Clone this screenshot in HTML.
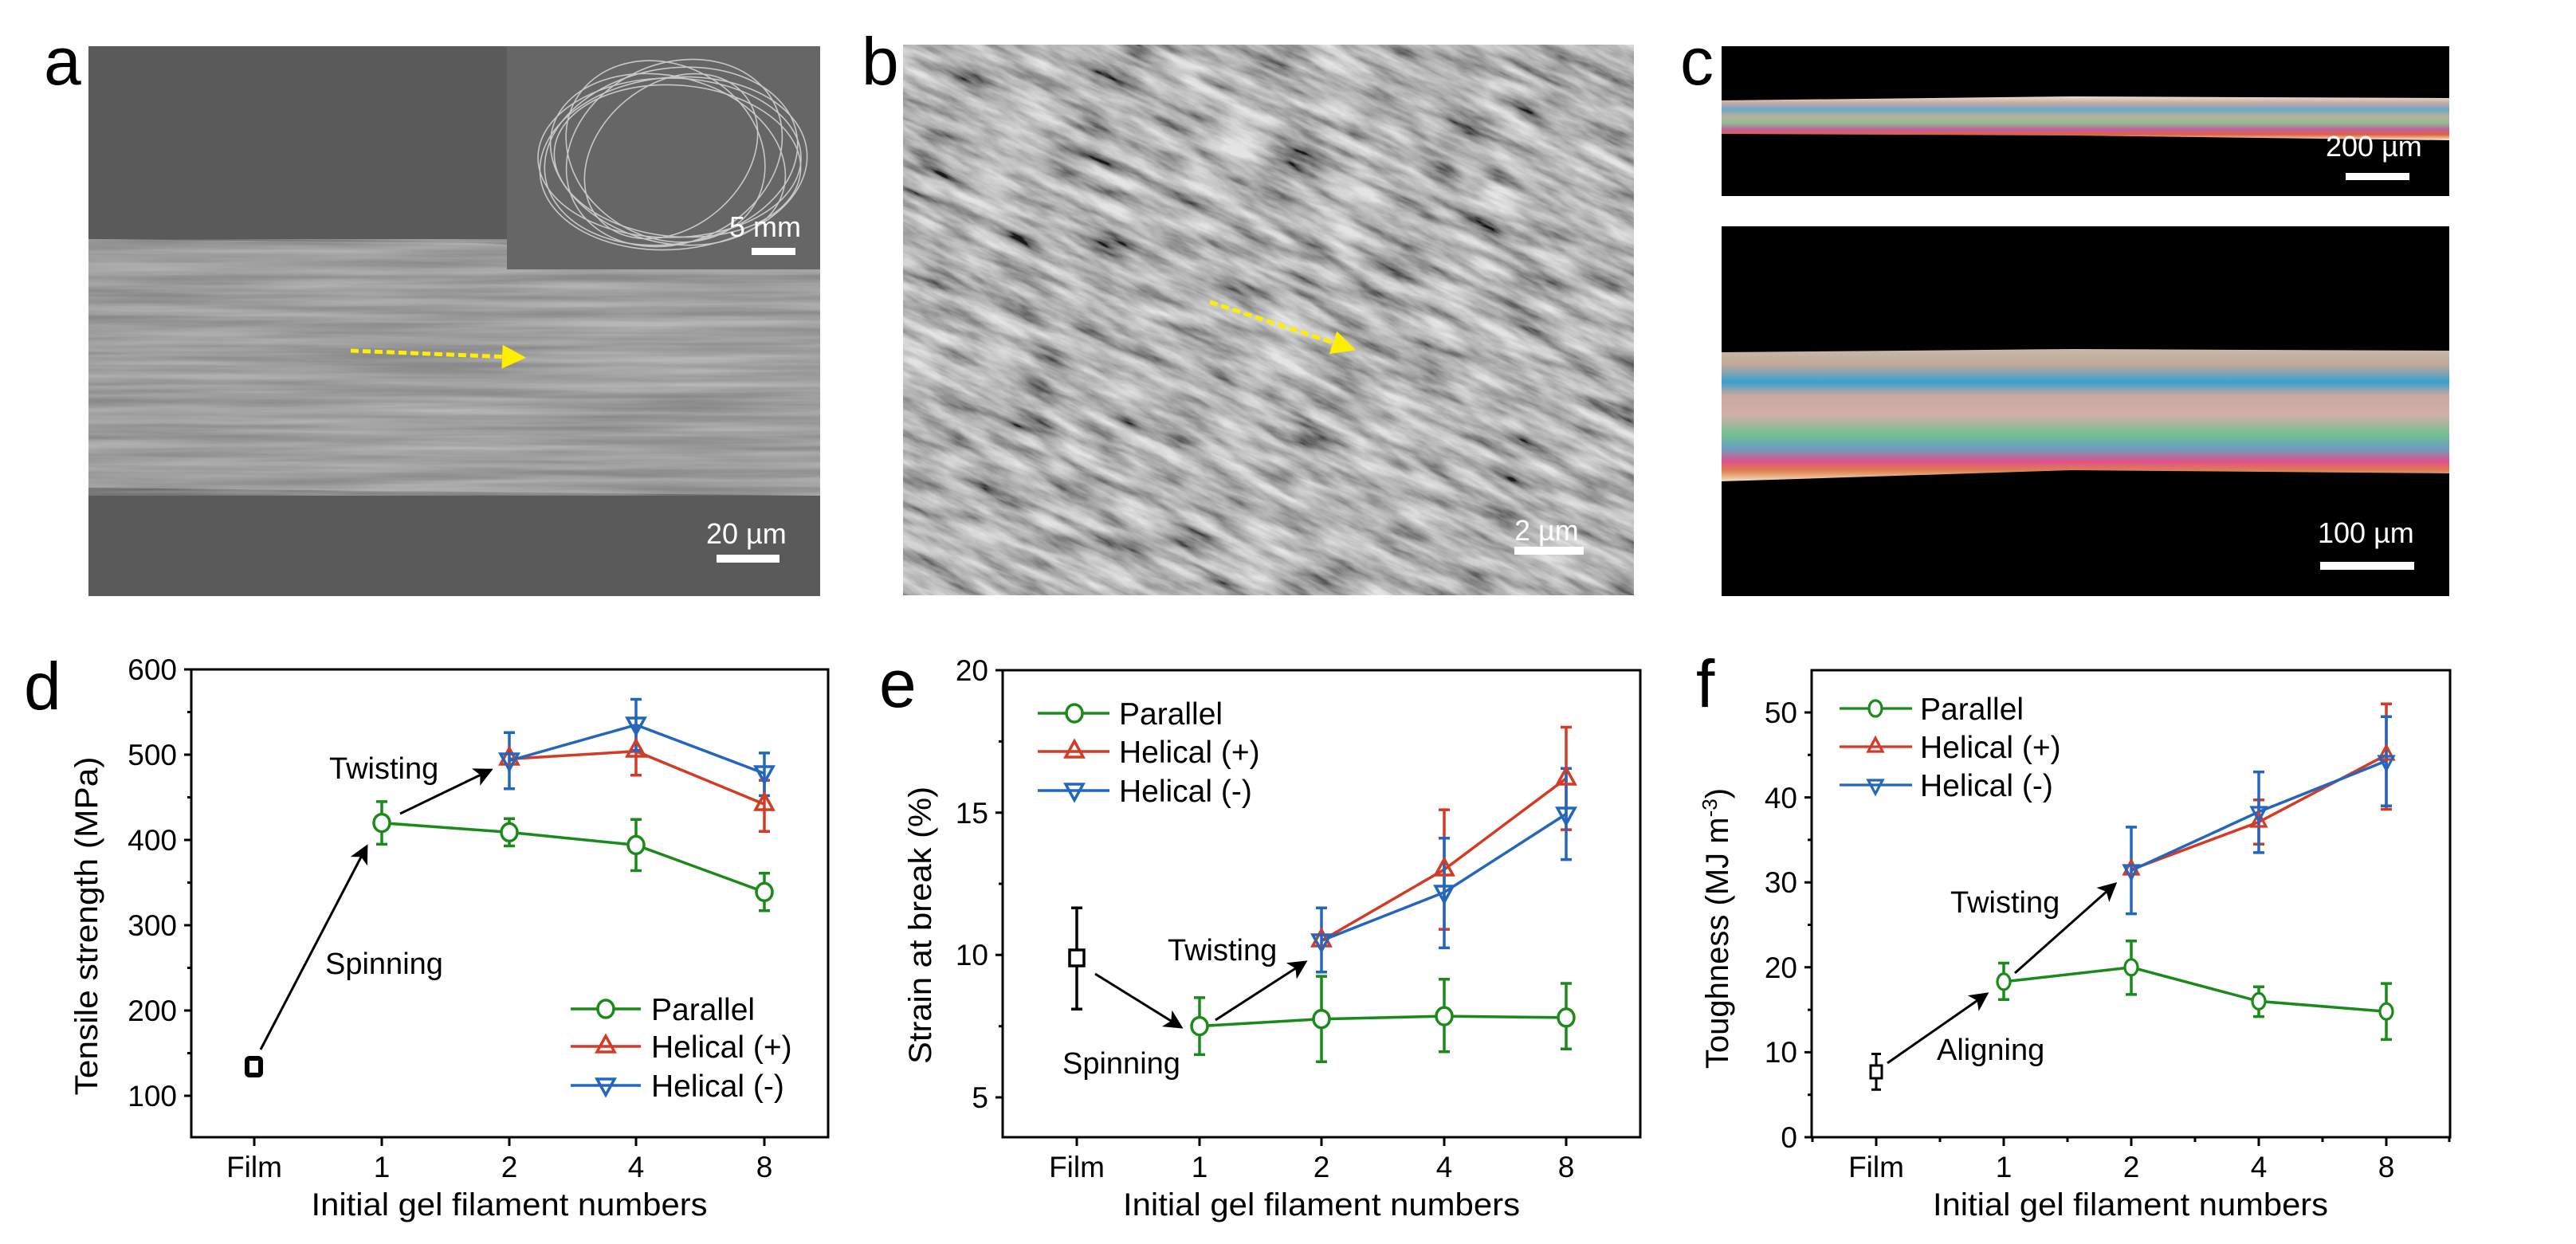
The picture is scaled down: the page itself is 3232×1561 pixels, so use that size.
<!DOCTYPE html>
<html><head><meta charset="utf-8"><style>
html,body{margin:0;padding:0;background:#fff}
svg{display:block}
text{font-family:"Liberation Sans",Arial,sans-serif}
</style></head><body>
<svg width="3232" height="1561" viewBox="0 0 3232 1561" xmlns="http://www.w3.org/2000/svg">
<defs>
<filter id="streak" x="0" y="0" width="100%" height="100%">
<feTurbulence type="fractalNoise" baseFrequency="0.003 0.09" numOctaves="3" seed="3"/>
<feColorMatrix type="matrix" values="0 0 0 0 0.6  0 0 0 0 0.6  0 0 0 0 0.6  0 0 0 -1.5 1.2"/>
</filter>
<filter id="sem" x="0" y="0" width="100%" height="100%">
<feTurbulence type="fractalNoise" baseFrequency="0.012 0.06" numOctaves="4" seed="7"/>
<feColorMatrix type="saturate" values="0"/>
<feComponentTransfer><feFuncR type="linear" slope="2.0" intercept="-0.45"/><feFuncG type="linear" slope="2.0" intercept="-0.45"/><feFuncB type="linear" slope="2.0" intercept="-0.45"/><feFuncA type="linear" slope="0" intercept="1"/></feComponentTransfer>
</filter>
<clipPath id="bclip"><rect x="1133" y="56" width="917" height="691"/></clipPath>
<linearGradient id="pol1" x1="0" y1="0" x2="0" y2="1">
<stop offset="0" stop-color="#e8e0d0"/><stop offset="0.15" stop-color="#c9a8a0"/><stop offset="0.3" stop-color="#6aa8c8"/><stop offset="0.45" stop-color="#b8b0a0"/><stop offset="0.6" stop-color="#8fbf90"/><stop offset="0.75" stop-color="#c060a0"/><stop offset="0.87" stop-color="#e06040"/><stop offset="1" stop-color="#f8ecd0"/>
</linearGradient>
<linearGradient id="pol2" x1="0" y1="0" x2="0" y2="1">
<stop offset="0" stop-color="#c8b8a8"/><stop offset="0.12" stop-color="#c0a898"/><stop offset="0.25" stop-color="#3aa0d0"/><stop offset="0.35" stop-color="#c8a8a0"/><stop offset="0.5" stop-color="#d0b0a8"/><stop offset="0.65" stop-color="#70c090"/><stop offset="0.75" stop-color="#6aa0c0"/><stop offset="0.85" stop-color="#e0508a"/><stop offset="0.92" stop-color="#e08050"/><stop offset="1" stop-color="#f0e0c0"/>
</linearGradient>
<marker id="ah" markerWidth="8" markerHeight="8" refX="7" refY="4" orient="auto" markerUnits="strokeWidth"><path d="M0,0 L8,4 L0,8 L2,4 z" fill="#000"/></marker>
<marker id="ay" markerWidth="6" markerHeight="6" refX="2" refY="3" orient="auto" markerUnits="strokeWidth"><path d="M0,0 L6,3 L0,6 z" fill="#ffee00"/></marker>
</defs>

<!-- panel a -->
<rect x="111" y="58" width="918" height="690" fill="#5a5a5a"/>
<polygon points="111,300 600,305 1029,330 1029,622 111,612" fill="#8a8a8a"/>
<polygon points="111,300 600,305 1029,330 1029,622 111,612" fill="#8a8a8a" filter="url(#streak)" opacity="0.7"/>
<rect x="636" y="58" width="393" height="280" fill="#666"/>
<g fill="none" stroke="#d8d8d8" stroke-width="1.6" opacity="0.85">
<ellipse cx="842" cy="196" rx="160" ry="110" transform="rotate(-10 842 196)"/>
<ellipse cx="838" cy="200" rx="150" ry="104" transform="rotate(15 838 200)"/>
<ellipse cx="846" cy="192" rx="140" ry="112" transform="rotate(-25 846 192)"/>
<ellipse cx="840" cy="198" rx="165" ry="100"/>
<ellipse cx="835" cy="190" rx="130" ry="108" transform="rotate(30 835 190)"/>
<ellipse cx="850" cy="202" rx="155" ry="95" transform="rotate(5 850 202)"/>
<ellipse cx="842" cy="196" rx="120" ry="90" transform="rotate(-40 842 196)"/>
<ellipse cx="845" cy="205" rx="168" ry="108" transform="rotate(-5 845 205)"/>
</g>
<line x1="440" y1="440" x2="640" y2="448" stroke="#ffee00" stroke-width="5" stroke-dasharray="10,5" marker-end="url(#ay)"/>
<text x="915" y="297" font-size="36" fill="#fff">5 mm</text>
<rect x="943" y="311" width="55" height="9" fill="#fff"/>
<text x="886" y="682" font-size="36" fill="#fff">20 µm</text>
<rect x="899" y="696" width="79" height="10" fill="#fff"/>
<text x="55" y="106" font-size="84">a</text>

<!-- panel b -->
<rect x="1133" y="56" width="917" height="691" fill="#7a7a7a"/>
<g clip-path="url(#bclip)">
<rect x="900" y="-200" width="1400" height="1200" filter="url(#sem)" opacity="0.8" transform="rotate(25 1591 400)"/>
</g>
<line x1="1518" y1="379" x2="1682" y2="433" stroke="#ffee00" stroke-width="5" stroke-dasharray="10,5" marker-end="url(#ay)"/>
<text x="1900" y="678" font-size="36" fill="#fff">2 µm</text>
<rect x="1900" y="686" width="87" height="10" fill="#fff"/>
<text x="1081" y="106" font-size="84">b</text>

<!-- panel c -->
<rect x="2160" y="58" width="913" height="188" fill="#000"/>
<polygon points="2160,126 2600,121 3073,123 3073,176 2600,170 2160,168" fill="url(#pol1)"/>
<text x="2918" y="196" font-size="36" fill="#fff">200 µm</text>
<rect x="2943" y="217" width="80" height="9" fill="#fff"/>
<rect x="2160" y="284" width="913" height="464" fill="#000"/>
<polygon points="2160,442 2600,438 3073,440 3073,594 2600,590 2160,604" fill="url(#pol2)"/>
<text x="2908" y="681" font-size="36" fill="#fff">100 µm</text>
<rect x="2911" y="705" width="118" height="10" fill="#fff"/>
<text x="2108" y="106" font-size="84">c</text>

<!-- ============ panel d ============ -->
<g stroke="#000" stroke-width="3" fill="none">
<rect x="240" y="840" width="799" height="587"/>
<path d="M240,1375h-9M240,1268h-9M240,1161h-9M240,1054h-9M240,947h-9M240,840h-9M240,1321.5h-5M240,1214.5h-5M240,1107.5h-5M240,1000.5h-5M240,893.5h-5"/>
<path d="M319,1427v11M479,1427v11M639,1427v11M798,1427v11M959,1427v11"/>
</g>
<g font-size="37" text-anchor="end">
<text x="222" y="1388">100</text><text x="222" y="1281">200</text><text x="222" y="1174">300</text><text x="222" y="1067">400</text><text x="222" y="960">500</text><text x="222" y="853">600</text>
</g>
<g font-size="37" text-anchor="middle">
<text x="319" y="1477">Film</text><text x="479" y="1477">1</text><text x="639" y="1477">2</text><text x="798" y="1477">4</text><text x="959" y="1477">8</text>
</g>
<text x="639" y="1525" font-size="40" text-anchor="middle" textLength="497" lengthAdjust="spacingAndGlyphs">Initial gel filament numbers</text>
<text transform="translate(122,1162) rotate(-90)" font-size="40" text-anchor="middle" textLength="425" lengthAdjust="spacingAndGlyphs">Tensile strength (MPa)</text>
<text x="30" y="890" font-size="84">d</text>
<g stroke-width="3.5" fill="none">
<path d="M479,1059.4V1005.9M472,1059.4h14M472,1005.9h14M639,1061.5V1027.3M632,1061.5h14M632,1027.3h14M798,1092.5V1028.3M791,1092.5h14M791,1028.3h14M959,1142.8V1095.7M952,1142.8h14M952,1095.7h14" stroke="#1a8a1a"/>
<polyline points="479,1032.6 639,1044.4 798,1060.4 959,1119.3" stroke="#1a8a1a"/>
<path d="M798,972.7V911.7M791,972.7h14M791,911.7h14M959,1043.3V979.1M952,1043.3h14M952,979.1h14" stroke="#d33b26"/>
<polyline points="639,952.4 798,942.7 959,1009.1" stroke="#d33b26"/>
<path d="M639,989.8V919.2M632,989.8h14M632,919.2h14M798,941.7V877.5M791,941.7h14M791,877.5h14M959,998.4V944.9M952,998.4h14M952,944.9h14" stroke="#2266c0"/>
<polyline points="639,954.5 798,909.6 959,970.5" stroke="#2266c0"/>
</g>
<g fill="#fff" stroke-width="3.5">
<g stroke="#1a8a1a"><ellipse cx="479" cy="1032.6" rx="10" ry="11"/><ellipse cx="639" cy="1044.4" rx="10" ry="11"/><ellipse cx="798" cy="1060.4" rx="10" ry="11"/><ellipse cx="959" cy="1119.3" rx="10" ry="11"/></g>
<g stroke="#d33b26" fill="none"><path d="M639,939l-11,20h22z"/><path d="M798,929l-11,20h22z"/><path d="M959,996l-11,20h22z"/></g>
<g stroke="#2266c0" fill="none"><path d="M639,966l-11,-20h22z"/><path d="M798,921l-11,-20h22z"/><path d="M959,982l-11,-20h22z"/></g>
</g>
<rect x="310" y="1328" width="17" height="21" rx="3" fill="#fff" stroke="#000" stroke-width="6"/>
<line x1="327" y1="1317" x2="460" y2="1062" stroke="#000" stroke-width="3" marker-end="url(#ah)"/>
<line x1="502" y1="1021" x2="616" y2="966" stroke="#000" stroke-width="3" marker-end="url(#ah)"/>
<text x="413" y="977" font-size="38">Twisting</text>
<text x="408" y="1222" font-size="38">Spinning</text>
<g stroke-width="3.5">
<line x1="716" y1="1266" x2="804" y2="1266" stroke="#1a8a1a"/><ellipse cx="760" cy="1266" rx="10" ry="11" fill="#fff" stroke="#1a8a1a"/>
<line x1="716" y1="1313" x2="804" y2="1313" stroke="#d33b26"/><path d="M760,1300l-11,20h22z" fill="none" stroke="#d33b26"/>
<line x1="716" y1="1362" x2="804" y2="1362" stroke="#2266c0"/><path d="M760,1374l-11,-20h22z" fill="none" stroke="#2266c0"/>
</g>
<g font-size="39"><text x="817" y="1280">Parallel</text><text x="817" y="1327">Helical (+)</text><text x="817" y="1376">Helical (-)</text></g>

<!-- ============ panel e ============ -->
<g stroke="#000" stroke-width="3" fill="none">
<rect x="1258" y="841" width="800" height="586"/>
<path d="M1258,1377h-9M1258,1198.3h-9M1258,1019.7h-9M1258,841h-9M1258,1287.7h-5M1258,1109h-5M1258,930.4h-5"/>
<path d="M1351,1427v11M1505,1427v11M1658,1427v11M1812,1427v11M1965,1427v11"/>
</g>
<g font-size="37" text-anchor="end"><text x="1240" y="1390">5</text><text x="1240" y="1211">10</text><text x="1240" y="1033">15</text><text x="1240" y="854">20</text></g>
<g font-size="37" text-anchor="middle"><text x="1351" y="1477">Film</text><text x="1505" y="1477">1</text><text x="1658" y="1477">2</text><text x="1812" y="1477">4</text><text x="1965" y="1477">8</text></g>
<text x="1658" y="1525" font-size="40" text-anchor="middle" textLength="498" lengthAdjust="spacingAndGlyphs">Initial gel filament numbers</text>
<text transform="translate(1168,1161) rotate(-90)" font-size="40" text-anchor="middle" textLength="348" lengthAdjust="spacingAndGlyphs">Strain at break (%)</text>
<text x="1103" y="887" font-size="84">e</text>
<g stroke-width="3.5" fill="none">
<path d="M1505,1323.4V1251.9M1498,1323.4h14M1498,1251.9h14M1658,1332.3V1225.1M1651,1332.3h14M1651,1225.1h14M1812,1319.8V1228.7M1805,1319.8h14M1805,1228.7h14M1965,1316.2V1234M1958,1316.2h14M1958,1234h14" stroke="#1a8a1a"/>
<polyline points="1505,1287.6 1658,1278.7 1812,1275.1 1965,1276.9" stroke="#1a8a1a"/>
<path d="M1812,1166.1V1016.1M1805,1166.1h14M1805,1016.1h14M1965,1041.1V912.5M1958,1041.1h14M1958,912.5h14" stroke="#d33b26"/>
<polyline points="1658,1180.4 1812,1091.1 1965,976.8" stroke="#d33b26"/>
<path d="M1658,1219.7V1139.3M1651,1219.7h14M1651,1139.3h14M1812,1189.4V1051.8M1805,1189.4h14M1805,1051.8h14M1965,1078.6V964.3M1958,1078.6h14M1958,964.3h14" stroke="#2266c0"/>
<polyline points="1658,1180.4 1812,1119.7 1965,1021.4" stroke="#2266c0"/>
</g>
<g fill="#fff" stroke-width="3.5">
<g stroke="#1a8a1a"><ellipse cx="1505" cy="1287.6" rx="10" ry="11"/><ellipse cx="1658" cy="1278.7" rx="10" ry="11"/><ellipse cx="1812" cy="1275.1" rx="10" ry="11"/><ellipse cx="1965" cy="1276.9" rx="10" ry="11"/></g>
<g stroke="#d33b26" fill="none"><path d="M1658,1167l-11,20h22z"/><path d="M1812,1078l-11,20h22z"/><path d="M1965,964l-11,20h22z"/></g>
<g stroke="#2266c0" fill="none"><path d="M1658,1193l-11,-20h22z"/><path d="M1812,1132l-11,-20h22z"/><path d="M1965,1034l-11,-20h22z"/></g>
</g>
<g stroke="#000" stroke-width="3.5" fill="none"><path d="M1351,1266.2V1139.3M1344,1266.2h14M1344,1139.3h14"/><rect x="1342" y="1192" width="18" height="20" fill="#fff"/></g>
<line x1="1374" y1="1222" x2="1482" y2="1289" stroke="#000" stroke-width="3" marker-end="url(#ah)"/>
<line x1="1525" y1="1280" x2="1638" y2="1207" stroke="#000" stroke-width="3" marker-end="url(#ah)"/>
<text x="1465" y="1205" font-size="38">Twisting</text>
<text x="1333" y="1347" font-size="38">Spinning</text>
<g stroke-width="3.5">
<line x1="1302" y1="895" x2="1392" y2="895" stroke="#1a8a1a"/><ellipse cx="1348" cy="895" rx="10" ry="11" fill="#fff" stroke="#1a8a1a"/>
<line x1="1302" y1="943" x2="1392" y2="943" stroke="#d33b26"/><path d="M1348,930l-11,20h22z" fill="none" stroke="#d33b26"/>
<line x1="1302" y1="992" x2="1392" y2="992" stroke="#2266c0"/><path d="M1348,1004l-11,-20h22z" fill="none" stroke="#2266c0"/>
</g>
<g font-size="39"><text x="1404" y="909">Parallel</text><text x="1404" y="957">Helical (+)</text><text x="1404" y="1006">Helical (-)</text></g>

<!-- ============ panel f ============ -->
<g stroke="#000" stroke-width="3" fill="none">
<rect x="2273" y="841" width="801" height="586"/>
<path d="M2273,1427h-9M2273,1320.4h-9M2273,1213.8h-9M2273,1107.2h-9M2273,1000.6h-9M2273,894h-9M2273,1373.7h-5M2273,1267.1h-5M2273,1160.5h-5M2273,1053.9h-5M2273,947.3h-5"/>
<path d="M2354,1427v11M2514,1427v11M2674,1427v11M2834,1427v11M2994,1427v11M2274,1427v6M2434,1427v6M2594,1427v6M2754,1427v6M2914,1427v6M3073,1427v6"/>
</g>
<g font-size="37" text-anchor="end"><text x="2255" y="1440">0</text><text x="2255" y="1333">10</text><text x="2255" y="1227">20</text><text x="2255" y="1120">30</text><text x="2255" y="1014">40</text><text x="2255" y="907">50</text></g>
<g font-size="37" text-anchor="middle"><text x="2354" y="1477">Film</text><text x="2514" y="1477">1</text><text x="2674" y="1477">2</text><text x="2834" y="1477">4</text><text x="2994" y="1477">8</text></g>
<text x="2673" y="1525" font-size="40" text-anchor="middle" textLength="496" lengthAdjust="spacingAndGlyphs">Initial gel filament numbers</text>
<text transform="translate(2168,1165) rotate(-90)" font-size="40" text-anchor="middle">Toughness (MJ m<tspan font-size="26" dy="-14">-3</tspan><tspan dy="14">)</tspan></text>
<text x="2128" y="887" font-size="84">f</text>
<g stroke-width="3.5" fill="none">
<path d="M2514,1254.3V1208.5M2507,1254.3h14M2507,1208.5h14M2674,1247.9V1180.8M2667,1247.9h14M2667,1180.8h14M2834,1275.6V1238.3M2827,1275.6h14M2827,1238.3h14M2994,1304.4V1234.1M2987,1304.4h14M2987,1234.1h14" stroke="#1a8a1a"/>
<polyline points="2514,1231.9 2674,1213.8 2834,1256.4 2994,1269.2" stroke="#1a8a1a"/>
<path d="M2834,1059.2V1003.8M2827,1059.2h14M2827,1003.8h14M2994,1015.5V883.3M2987,1015.5h14M2987,883.3h14" stroke="#d33b26"/>
<polyline points="2674,1091.2 2834,1031.5 2994,947.3" stroke="#d33b26"/>
<path d="M2674,1146.6V1037.9M2667,1146.6h14M2667,1037.9h14M2834,1069.9V968.6M2827,1069.9h14M2827,968.6h14M2994,1011.3V899.3M2987,1011.3h14M2987,899.3h14" stroke="#2266c0"/>
<polyline points="2674,1092.3 2834,1018.7 2994,954.8" stroke="#2266c0"/>
</g>
<g fill="#fff" stroke-width="3.2">
<g stroke="#1a8a1a"><ellipse cx="2514" cy="1231.9" rx="8" ry="10"/><ellipse cx="2674" cy="1213.8" rx="8" ry="10"/><ellipse cx="2834" cy="1256.4" rx="8" ry="10"/><ellipse cx="2994" cy="1269.2" rx="8" ry="10"/></g>
<g stroke="#d33b26" fill="none"><path d="M2674,1080l-9,17h18z"/><path d="M2834,1020l-9,17h18z"/><path d="M2994,936l-9,17h18z"/></g>
<g stroke="#2266c0" fill="none"><path d="M2674,1103l-9,-17h18z"/><path d="M2834,1030l-9,-17h18z"/><path d="M2994,966l-9,-17h18z"/></g>
</g>
<g stroke="#000" stroke-width="3" fill="none"><path d="M2354,1367.3V1322.5M2348,1367.3h12M2348,1322.5h12"/><rect x="2347" y="1337" width="14" height="16" fill="#fff"/></g>
<line x1="2368" y1="1334" x2="2493" y2="1247" stroke="#000" stroke-width="3" marker-end="url(#ah)"/>
<line x1="2528" y1="1221" x2="2654" y2="1109" stroke="#000" stroke-width="3" marker-end="url(#ah)"/>
<text x="2447" y="1145" font-size="38">Twisting</text>
<text x="2430" y="1330" font-size="38">Aligning</text>
<g stroke-width="3.2">
<line x1="2308" y1="889" x2="2399" y2="889" stroke="#1a8a1a"/><ellipse cx="2353" cy="889" rx="8" ry="10" fill="#fff" stroke="#1a8a1a"/>
<line x1="2308" y1="937" x2="2399" y2="937" stroke="#d33b26"/><path d="M2353,926l-9,17h18z" fill="none" stroke="#d33b26"/>
<line x1="2308" y1="985" x2="2399" y2="985" stroke="#2266c0"/><path d="M2353,996l-9,-17h18z" fill="none" stroke="#2266c0"/>
</g>
<g font-size="39"><text x="2409" y="903">Parallel</text><text x="2409" y="951">Helical (+)</text><text x="2409" y="999">Helical (-)</text></g>
</svg>
</body></html>
